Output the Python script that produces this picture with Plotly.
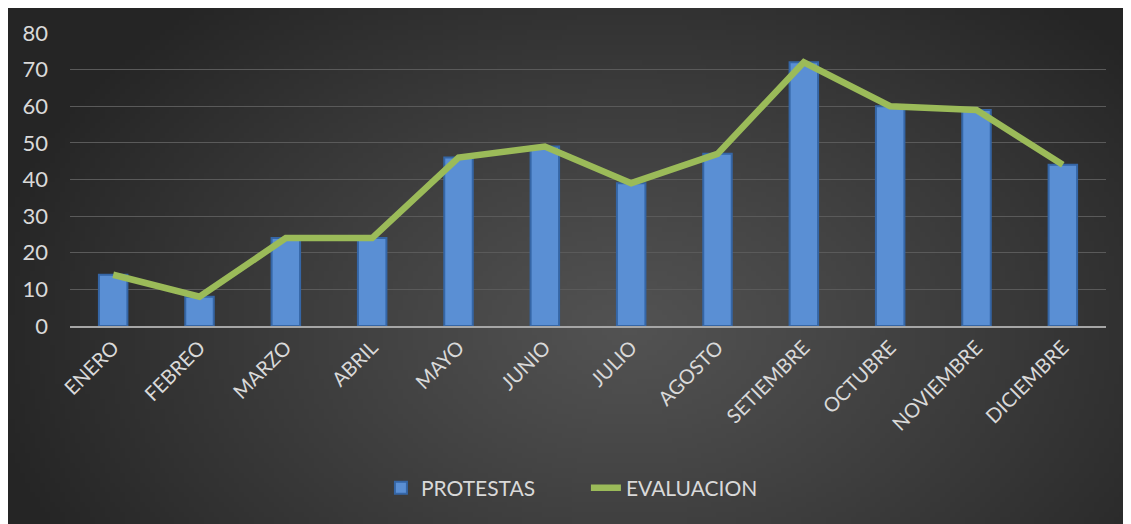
import base64
import struct
import zlib
import plotly.graph_objects as go

months = ["ENERO", "FEBREO", "MARZO", "ABRIL", "MAYO", "JUNIO", "JULIO",
          "AGOSTO", "SETIEMBRE", "OCTUBRE", "NOVIEMBRE", "DICIEMBRE"]
protestas = [14, 8, 24, 24, 46, 49, 39, 47, 72, 60, 59, 44]
evaluacion = [14, 8, 24, 24, 46, 49, 39, 47, 72, 60, 59, 44]
y_ticks = [0, 10, 20, 30, 40, 50, 60, 70, 80]


def gradient_png(w, h):
    cx, cy = 0.55 * w, 0.62 * h
    rx, ry = 0.58 * w, 0.85 * h
    center, edge = 0x52, 0x25
    raw = bytearray()
    for j in range(h):
        raw.append(0)
        for i in range(w):
            d = (((i - cx) / rx) ** 2 + ((j - cy) / ry) ** 2) ** 0.5
            f = min(1.0, d) ** 1.1
            v = int(round(center + (edge - center) * f))
            raw.extend((v, v, v))

    def chunk(tag, data):
        c = struct.pack(">I", len(data)) + tag + data
        return c + struct.pack(">I", zlib.crc32(tag + data) & 0xffffffff)

    png = b"\x89PNG\r\n\x1a\n"
    png += chunk(b"IHDR", struct.pack(">IIBBBBB", w, h, 8, 2, 0, 0, 0))
    png += chunk(b"IDAT", zlib.compress(bytes(raw), 9))
    png += chunk(b"IEND", b"")
    return "data:image/png;base64," + base64.b64encode(png).decode()


bg = gradient_png(226, 105)

W, H = 1131, 524
ML, MR, MT, MB = 62, 33, 25, 206
PW, PH = W - ML - MR, H - MT - MB

fig = go.Figure()
fig.add_trace(go.Bar(
    x=months, y=protestas, name="PROTESTAS",
    width=0.33,
    marker=dict(color="#5a8fd4", line=dict(color="#3566a6", width=2)),
))
fig.add_trace(go.Scatter(
    x=months, y=evaluacion, name="EVALUACION", mode="lines",
    line=dict(color="#9bbb59", width=6.5),
))

fig.update_layout(
    width=W, height=H,
    margin=dict(l=ML, r=MR, t=MT, b=MB),
    paper_bgcolor="#ffffff",
    plot_bgcolor="rgba(0,0,0,0)",
    font=dict(family="Lato, 'Open Sans', sans-serif", color="#d9d9d9", size=20),
    images=[dict(source=bg, xref="paper", yref="paper",
                 x=-ML / PW, y=1 + MT / PH,
                 sizex=(W - 8) / PW, sizey=(H - 8) / PH,
                 xanchor="left", yanchor="top", sizing="stretch", layer="below")],
    showlegend=True,
    legend=dict(orientation="h", x=0.498, y=-162 / PH, xanchor="center", yanchor="middle",
                font=dict(size=21, color="#d9d9d9"), bgcolor="rgba(0,0,0,0)",
                entrywidth=160, entrywidthmode="pixels"),
    bargap=0.5,
)
fig.update_xaxes(
    tickangle=-45, tickfont=dict(size=20, color="#d9d9d9"),
    showline=True, linecolor="#a6a6a6", linewidth=2,
    showgrid=False, ticks="", automargin=False,
)
fig.update_yaxes(
    range=[0, 80], tickvals=y_ticks, tickfont=dict(size=22, color="#d9d9d9"),
    showgrid=True, gridcolor="#5a5a5a", gridwidth=1,
    zeroline=False, showline=False, ticks="", ticklabelstandoff=21,
    automargin=False,
)

fig.write_html("out.html")
